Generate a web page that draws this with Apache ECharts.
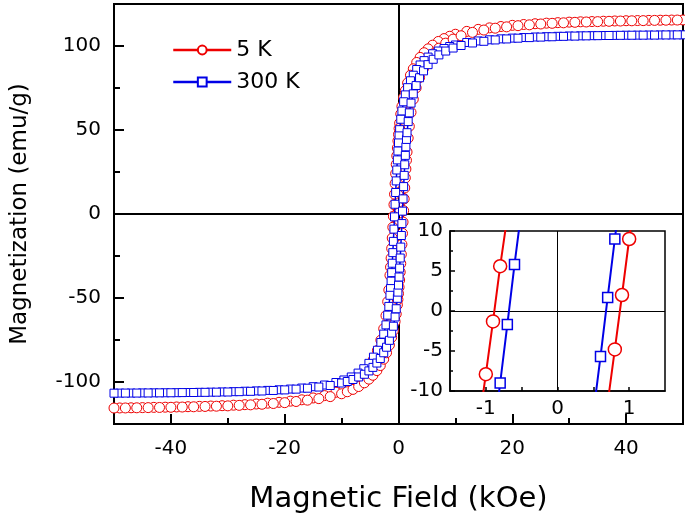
<!DOCTYPE html>
<html>
<head>
<meta charset="utf-8">
<script src="https://cdn.jsdelivr.net/npm/echarts@6.0.0/dist/echarts.min.js"></script>
<style>
  html, body { margin: 0; padding: 0; background: #fff; }
  #chart { width: 685px; height: 514px; }
</style>
</head>
<body>
<div id="chart"></div>
<script>
// M-H loops: field in kOe, magnetization in emu/g
// descending branch (+50 -> -50)
const fieldDown = [50, 48, 46, 44, 42, 40, 38, 36, 34, 32, 30, 28, 26, 24, 22, 20, 18, 16, 14, 12, 10,
    9, 8, 7, 6, 5.2, 4.5, 3.8, 3.2, 2.6, 2.1, 1.6, 1.2, 0.9, 0.6, 0.4, 0.2, 0.1,
    0,
    -0.1, -0.2, -0.3, -0.4, -0.5, -0.6, -0.7, -0.8, -0.9, -1.0, -1.1, -1.2, -1.3, -1.4, -1.5,
    -1.7, -1.9, -2.2, -2.6, -3.1, -3.7, -4.4, -5.2, -6.1, -7.1, -8.3, -9.6,
    -11, -13, -15, -17, -19, -21, -23, -25, -27, -29, -31, -33, -35, -37, -39, -41, -43, -45, -47, -49];
const m5Down = [115.5, 115.45, 115.35, 115.25, 115.15, 115.05, 114.9, 114.75, 114.55, 114.4, 114.2, 113.9, 113.6, 113.25, 112.8, 112.3, 111.6, 110.8, 109.9, 108.7, 107.0,
    105.8, 104.4, 102.7, 100.5, 98.3, 96.0, 93.2, 90.2, 86.4, 82.6, 78.0, 73.4, 69.3, 64.0, 59.5, 54.1, 50.9,
    47.4,
    43.6, 39.3, 34.6, 29.5, 24.0, 18.1, 11.8, 5.6, -1.3, -7.9, -14.3, -20.5, -26.3, -31.6, -36.5,
    -45.2, -52.2, -60.5, -68.3, -75.1, -81.2, -86.7, -91.5, -95.4, -98.7, -101.7, -104.1,
    -106.1, -108.1, -109.5, -110.6, -111.4, -112.1, -112.6, -113.1, -113.5, -113.8, -114.1, -114.3, -114.5, -114.7, -114.85, -115.0, -115.1, -115.25, -115.35, -115.45];
const m300Down = [106.65, 106.6, 106.58, 106.52, 106.46, 106.4, 106.3, 106.25, 106.15, 106.05, 105.95, 105.75, 105.55, 105.35, 105.05, 104.7, 104.25, 103.7, 103.0, 102.1, 100.6,
    99.7, 98.5, 97.0, 95.4, 93.4, 91.3, 88.7, 86.0, 82.6, 79.3, 75.2, 70.9, 66.8, 61.3, 56.4, 50.2, 46.5,
    42.3,
    37.5, 32.2, 26.2, 19.7, 12.8, 5.8, -1.7, -9.0, -16.3, -23.0, -29.3, -34.9, -40.0, -44.4, -48.4,
    -55.0, -60.2, -66.0, -71.5, -76.5, -81.1, -85.2, -88.9, -92.1, -94.7, -97.0, -98.8,
    -100.3, -101.8, -102.8, -103.6, -104.2, -104.65, -105.0, -105.3, -105.5, -105.75, -105.9, -106.05, -106.15, -106.25, -106.35, -106.4, -106.45, -106.5, -106.58, -106.62];

// ascending branch (-50 -> +50)
const fieldUp = [-50, -48, -46, -44, -42, -40, -38, -36, -34, -32, -30, -28, -26, -24, -22, -20, -18, -16, -14, -12, -10,
    -9, -8, -7, -6, -5.2, -4.5, -3.8, -3.2, -2.6, -2.1, -1.6, -1.2, -0.9, -0.6, -0.4, -0.2, -0.1,
    0,
    0.1, 0.2, 0.3, 0.4, 0.5, 0.6, 0.7, 0.8, 0.9, 1.0, 1.1, 1.2, 1.3, 1.4, 1.5,
    1.7, 1.9, 2.2, 2.6, 3.1, 3.7, 4.4, 5.2, 6.1, 7.1, 8.3, 9.6,
    11, 13, 15, 17, 19, 21, 23, 25, 27, 29, 31, 33, 35, 37, 39, 41, 43, 45, 47, 49];
const m5Up = [-115.5, -115.45, -115.35, -115.25, -115.15, -115.05, -114.9, -114.75, -114.55, -114.4, -114.2, -113.9, -113.6, -113.25, -112.8, -112.3, -111.6, -110.8, -109.9, -108.7, -107.0,
    -105.8, -104.4, -102.7, -100.5, -98.3, -96.0, -93.2, -90.2, -86.4, -82.6, -78.0, -73.4, -69.3, -64.0, -59.5, -54.1, -50.9,
    -47.4,
    -43.6, -39.3, -34.6, -29.5, -24.0, -18.1, -11.5, -4.8, 2.0, 9.0, 15.5, 21.5, 26.8, 32.0, 36.9,
    45.2, 52.2, 60.5, 68.3, 75.1, 81.2, 86.7, 91.5, 95.4, 98.7, 101.7, 104.1,
    106.1, 108.1, 109.5, 110.6, 111.4, 112.1, 112.6, 113.1, 113.5, 113.8, 114.1, 114.3, 114.5, 114.7, 114.85, 115.0, 115.1, 115.25, 115.35, 115.45];
const m300Up = [-106.65, -106.6, -106.58, -106.52, -106.46, -106.4, -106.3, -106.25, -106.15, -106.05, -105.95, -105.75, -105.55, -105.35, -105.05, -104.7, -104.25, -103.7, -103.0, -102.1, -100.6,
    -99.7, -98.5, -97.0, -95.4, -93.4, -91.3, -88.7, -86.0, -82.6, -79.3, -75.2, -70.9, -66.8, -61.3, -56.4, -50.2, -46.5,
    -42.3,
    -37.5, -32.2, -26.2, -19.7, -12.8, -5.7, 1.7, 9.0, 16.3, 23.0, 29.3, 34.9, 40.0, 44.4, 48.4,
    55.0, 60.2, 66.0, 71.5, 76.5, 81.1, 85.2, 88.9, 92.1, 94.7, 97.0, 98.8,
    100.3, 101.8, 102.8, 103.6, 104.2, 104.65, 105.0, 105.3, 105.5, 105.75, 105.9, 106.05, 106.15, 106.25, 106.35, 106.4, 106.45, 106.5, 106.58, 106.62];

// tick values
const xTicks = [-40, -20, 0, 20, 40];
const xMinorTicks = [-30, -10, 10, 30];
const yTicks = [-100, -50, 0, 50, 100];
const yMinorTicks = [-75, -25, 25, 75];
const insetXLabels = [-1, 0, 1];
const insetXTicks = [-1, -0.5, 0, 0.5, 1];
const insetYTicks = [-10, -5, 0, 5, 10];
const insetYMinorTicks = [-7.5, -2.5, 2.5, 7.5];

const RED = '#ee0000';
const BLUE = '#0000e6';
const FONT = 'DejaVu Sans';

function loop(fDown, mDown, fUp, mUp) {
    return fDown.map((h, i) => [h, mDown[i]]).concat(fUp.map((h, i) => [h, mUp[i]]));
}
const loop5 = loop(fieldDown, m5Down, fieldUp, m5Up);
const loop300 = loop(fieldDown, m300Down, fieldUp, m300Up);

// black lines through H = 0 and M = 0, kept under the markers
function zeroLines(width) {
    return {
        silent: true,
        z: 1,
        symbol: ['none', 'none'],
        label: { show: false },
        lineStyle: { color: '#000', width: width, type: 'solid' },
        emphasis: { disabled: true },
        data: [{ xAxis: 0 }, { yAxis: 0 }]
    };
}

// extra axis that only draws the short minor ticks
function tickAxis(gridIndex, min, max, values, length, width) {
    return {
        gridIndex: gridIndex, type: 'value', min: min, max: max,
        axisLine: { show: false, onZero: false },
        axisTick: { show: true, inside: true, length: length, lineStyle: { color: '#000', width: width }, customValues: values },
        axisLabel: { show: false },
        splitLine: { show: false }
    };
}

const chart = echarts.init(document.getElementById('chart'));
chart.setOption({
    animation: false,
    backgroundColor: '#fff',
    textStyle: { fontFamily: FONT, color: '#000' },
    grid: [
        { left: 114, right: 2, top: 4, bottom: 90, outerBoundsMode: 'none', show: true, borderColor: '#000', borderWidth: 2, backgroundColor: 'transparent' },
        { left: 450, top: 231, width: 215, height: 160, outerBoundsMode: 'none', show: true, borderColor: '#000', borderWidth: 1.5, backgroundColor: '#fff' },
        { left: 114, right: 2, top: 4, bottom: 90, outerBoundsMode: 'none' },
        { left: 450, top: 231, width: 215, height: 160, outerBoundsMode: 'none' }
    ],
    legend: {
        data: ['5 K', '300 K'],
        orient: 'vertical',
        left: 172, top: 39,
        padding: 0,
        itemWidth: 58, itemHeight: 11, itemGap: 10,
        lineStyle: { width: 2.5 },
        textStyle: { fontFamily: FONT, fontSize: 22, color: '#000' }
    },
    xAxis: [
        {
            gridIndex: 0, type: 'value', min: -50, max: 50,
            name: 'Magnetic Field (kOe)', nameLocation: 'middle', nameGap: 61,
            nameTextStyle: { fontFamily: FONT, fontSize: 29, color: '#000' },
            axisLine: { onZero: false, lineStyle: { color: '#000', width: 2 } },
            axisTick: { inside: true, length: 10, lineStyle: { color: '#000', width: 2 }, customValues: xTicks },
            axisLabel: { customValues: xTicks, fontFamily: FONT, fontSize: 20, color: '#000', margin: 15 },
            splitLine: { show: false }
        },
        {
            gridIndex: 1, type: 'value', min: -1.5, max: 1.5,
            axisLine: { onZero: false, lineStyle: { color: '#000', width: 1.5 } },
            axisTick: { inside: true, length: 4, lineStyle: { color: '#000', width: 1.5 }, customValues: insetXTicks },
            axisLabel: { customValues: insetXLabels, fontFamily: FONT, fontSize: 20, color: '#000', margin: 8 },
            splitLine: { show: false }
        },
        tickAxis(2, -50, 50, xMinorTicks, 6, 2),
        tickAxis(3, -1.5, 1.5, [], 3, 1.5)
    ],
    yAxis: [
        {
            gridIndex: 0, type: 'value', min: -125, max: 125,
            name: 'Magnetization (emu/g)', nameLocation: 'middle', nameGap: 82,
            nameTextStyle: { fontFamily: FONT, fontSize: 23, color: '#000' },
            axisLine: { onZero: false, lineStyle: { color: '#000', width: 2 } },
            axisTick: { inside: true, length: 10, lineStyle: { color: '#000', width: 2 }, customValues: yTicks },
            axisLabel: { customValues: yTicks, fontFamily: FONT, fontSize: 20, color: '#000', margin: 13 },
            splitLine: { show: false }
        },
        {
            gridIndex: 1, type: 'value', min: -10, max: 10,
            axisLine: { onZero: false, lineStyle: { color: '#000', width: 1.5 } },
            axisTick: { inside: true, length: 5, lineStyle: { color: '#000', width: 1.5 }, customValues: insetYTicks },
            axisLabel: { customValues: insetYTicks, fontFamily: FONT, fontSize: 20, color: '#000', margin: 7 },
            splitLine: { show: false }
        },
        tickAxis(2, -125, 125, yMinorTicks, 6, 2),
        tickAxis(3, -10, 10, insetYMinorTicks, 3, 1.5)
    ],
    series: [
        {
            name: '5 K', type: 'line', xAxisIndex: 0, yAxisIndex: 0,
            data: loop5, clip: true, z: 3,
            symbol: 'circle', symbolSize: 10,
            itemStyle: { color: '#fff', borderColor: RED, borderWidth: 1 },
            lineStyle: { color: RED, width: 1.5 },
            emphasis: { disabled: true },
            markLine: zeroLines(2)
        },
        {
            name: '300 K', type: 'line', xAxisIndex: 0, yAxisIndex: 0,
            data: loop300, clip: true, z: 4,
            symbol: 'rect', symbolSize: 8,
            itemStyle: { color: '#fff', borderColor: BLUE, borderWidth: 1 },
            lineStyle: { color: BLUE, width: 1.5 },
            emphasis: { disabled: true }
        },
        {
            name: '5 K inset', type: 'line', xAxisIndex: 1, yAxisIndex: 1,
            data: loop5, clip: true, z: 3,
            symbol: 'circle', symbolSize: 13,
            itemStyle: { color: '#fff', borderColor: RED, borderWidth: 1.5 },
            lineStyle: { color: RED, width: 2 },
            emphasis: { disabled: true },
            markLine: zeroLines(1)
        },
        {
            name: '300 K inset', type: 'line', xAxisIndex: 1, yAxisIndex: 1,
            data: loop300, clip: true, z: 4,
            symbol: 'rect', symbolSize: 10,
            itemStyle: { color: '#fff', borderColor: BLUE, borderWidth: 1.5 },
            lineStyle: { color: BLUE, width: 2 },
            emphasis: { disabled: true }
        }
    ]
});
</script>
</body>
</html>
